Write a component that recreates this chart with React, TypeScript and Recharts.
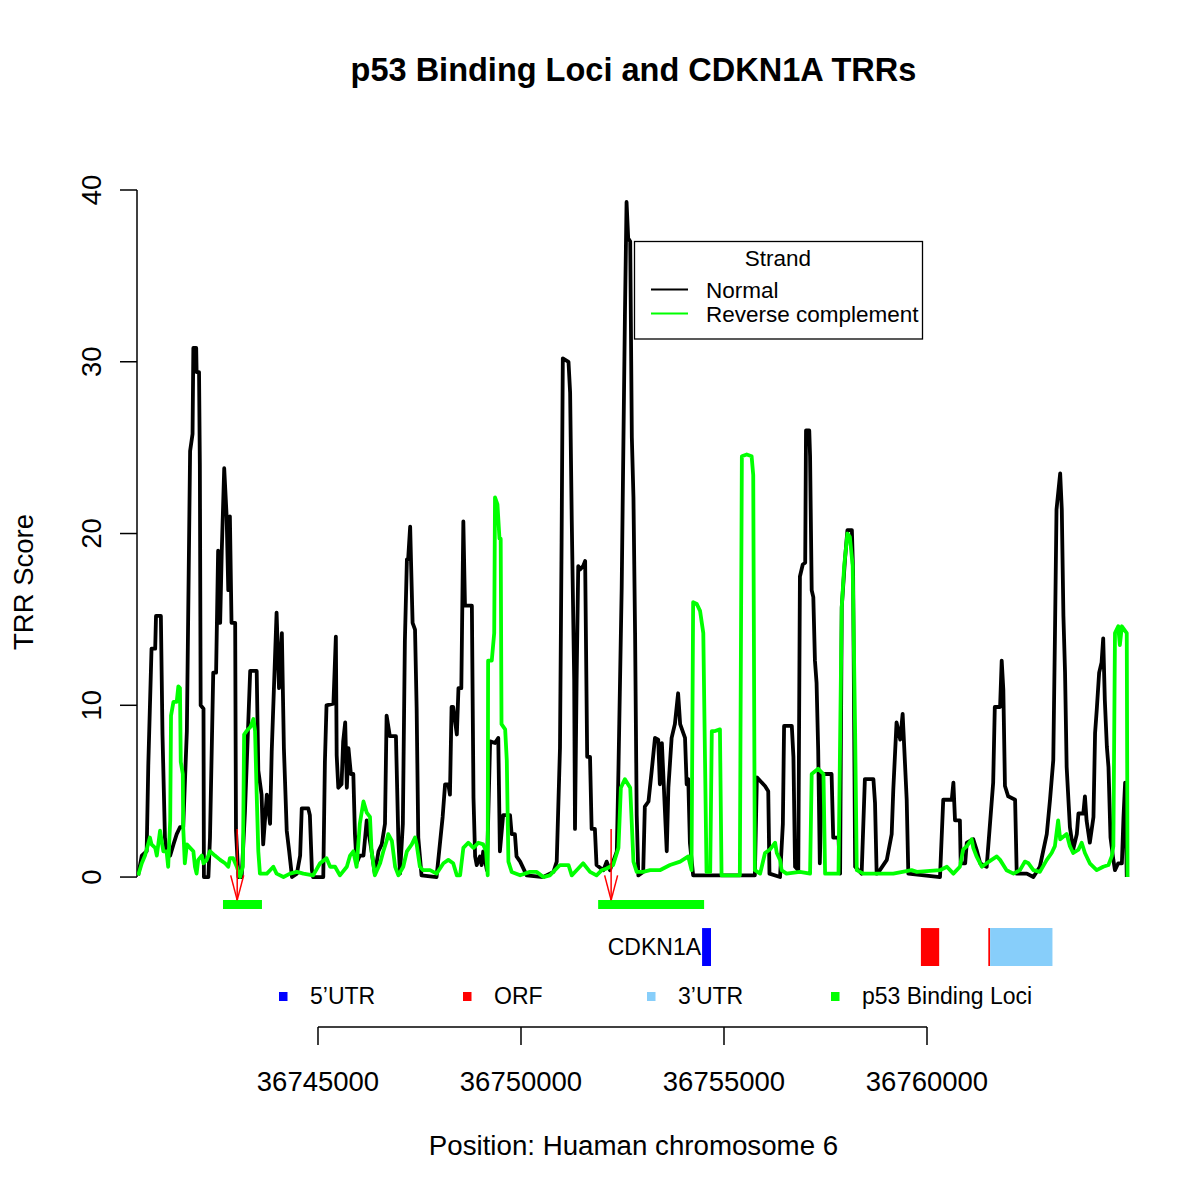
import React from "react";
import {
  ComposedChart,
  Line,
  XAxis,
  YAxis,
  ReferenceArea,
  ReferenceLine,
  Legend,
} from "recharts";

// TRR score along the CDKN1A region: [position (bp), score]
const normalTrace: [number, number][] = [
  [36740570, 0.1], [36740660, 1.25], [36740780, 1.5], [36740820, 6.5], [36740900, 13.3],
  [36740990, 13.3], [36741010, 15.2], [36741130, 15.2], [36741150, 11.7], [36741170, 8.3],
  [36741230, 2.3], [36741270, 1.5], [36741360, 1.25], [36741440, 1.9], [36741520, 2.5],
  [36741600, 2.9], [36741680, 2.9], [36741770, 8.5], [36741850, 24.8], [36741910, 25.8],
  [36741930, 30.8], [36742000, 30.8], [36742010, 29.4], [36742070, 29.4], [36742090, 24],
  [36742110, 10], [36742180, 9.8], [36742190, 0], [36742300, 0], [36742340, 2.3],
  [36742420, 11.9], [36742490, 11.9], [36742540, 19], [36742590, 14.8], [36742630, 19],
  [36742690, 23.8], [36742750, 21], [36742790, 16.7], [36742830, 21], [36742870, 14.8],
  [36742960, 14.8], [36742980, 2.7], [36743040, 0], [36743120, 0], [36743200, 3.75],
  [36743330, 12], [36743490, 12], [36743530, 6.2], [36743610, 4.8], [36743650, 1.9],
  [36743740, 4.8], [36743820, 3.1], [36743860, 7.3], [36743980, 15.4], [36744040, 11],
  [36744110, 14.2], [36744160, 7.5], [36744230, 2.7], [36744290, 1.5], [36744360, 0],
  [36744480, 0.2], [36744560, 1.25], [36744600, 4], [36744760, 4], [36744800, 3.6],
  [36744850, 0.4], [36744880, 0], [36745130, 0], [36745170, 6.7], [36745210, 10],
  [36745380, 10.1], [36745440, 14], [36745460, 7.1], [36745500, 5.2], [36745580, 5.4],
  [36745620, 7.9], [36745670, 9], [36745710, 5.2], [36745750, 7.5], [36745810, 6],
  [36745870, 6], [36745910, 2.5], [36745950, 0.8], [36746030, 1.25], [36746120, 1.25],
  [36746200, 3.3], [36746320, 1.5], [36746400, 0.2], [36746490, 1.5], [36746570, 1.9],
  [36746650, 3.1], [36746690, 9.4], [36746770, 8.2], [36746920, 8.2], [36746980, 2.1],
  [36747020, 0.2], [36747090, 3.1], [36747140, 13.75], [36747190, 18.5], [36747220, 18.5],
  [36747270, 20.4], [36747290, 18.5], [36747330, 14.8], [36747390, 14.4], [36747430, 9.8],
  [36747470, 2.3], [36747550, 0.1], [36747920, 0], [36748010, 2.1], [36748070, 3.5],
  [36748130, 5.4], [36748210, 5.4], [36748250, 4.8], [36748290, 9.9], [36748330, 9.9],
  [36748420, 8.3], [36748460, 11], [36748530, 11], [36748580, 20.7], [36748620, 15.8],
  [36748790, 15.8], [36748830, 4.6], [36748870, 1.2], [36748910, 0.7], [36748990, 1.2],
  [36749030, 0.7], [36749070, 1.5], [36749160, 0.4], [36749240, 7.9], [36749360, 7.8],
  [36749440, 8.1], [36749480, 1.5], [36749560, 3.6], [36749730, 3.6], [36749770, 2.5],
  [36749850, 2.5], [36749890, 1.2], [36749980, 0.9], [36750140, 0.1], [36750550, 0],
  [36750800, 0.3], [36750880, 0.9], [36750960, 7.5], [36751000, 19.5], [36751030, 30.2],
  [36751170, 30], [36751210, 28.2], [36751250, 20.8], [36751310, 11.5], [36751330, 2.8],
  [36751370, 11.5], [36751410, 18.1], [36751450, 17.9], [36751530, 18.1], [36751580, 18.4],
  [36751630, 7], [36751700, 7], [36751740, 2.8], [36751820, 2.8], [36751860, 0.7],
  [36752030, 0.4], [36752110, 0.9], [36752190, 0.4], [36752270, 0.9], [36752360, 1.5],
  [36752400, 6.2], [36752480, 16.8], [36752520, 24.8], [36752560, 32.7], [36752600, 39.3],
  [36752640, 37.2], [36752690, 37], [36752730, 25.6], [36752770, 22.1], [36752810, 14.2],
  [36752850, 3.6], [36752890, 0.1], [36753010, 0.3], [36753050, 4.1], [36753140, 4.4],
  [36753220, 6.2], [36753300, 8.1], [36753380, 8], [36753420, 5.4], [36753470, 7.8],
  [36753510, 5.7], [36753590, 1.5], [36753630, 5.2], [36753710, 8.1], [36753790, 8.9],
  [36753870, 10.7], [36753920, 8.9], [36754040, 8.1], [36754080, 5.4], [36754120, 5.7],
  [36754160, 2], [36754240, 0.1], [36755760, 0.1], [36755810, 5.8], [36756010, 5.3],
  [36756090, 5], [36756120, 0.2], [36756380, 0], [36756450, 3.1], [36756480, 8.8],
  [36756670, 8.8], [36756710, 7], [36756750, 0.6], [36756830, 0.4], [36756870, 17.5],
  [36756940, 18.2], [36757000, 18.3], [36757020, 26], [36757100, 26], [36757120, 24.5],
  [36757160, 16.7], [36757200, 16.3], [36757240, 12.6], [36757280, 11.3], [36757320, 7.4],
  [36757360, 0.8], [36757410, 6], [36757650, 6], [36757690, 2.3], [36757820, 2.3],
  [36757860, 0.2], [36757900, 15.7], [36757980, 18.5], [36758040, 20.2], [36758150, 20.2],
  [36758180, 17.7], [36758230, 0.6], [36758390, 0.2], [36758470, 5.7], [36758680, 5.7],
  [36758720, 4.3], [36758760, 0.2], [36758840, 0.4], [36759010, 1], [36759130, 2.5],
  [36759170, 5.1], [36759250, 9], [36759340, 8], [36759400, 9.5], [36759430, 8],
  [36759500, 4.5], [36759540, 0.2], [36760320, 0], [36760400, 4.5], [36760610, 4.5],
  [36760650, 5.5], [36760690, 3.3], [36760810, 3.3], [36760830, 0.8], [36760940, 0.8],
  [36760980, 2], [36761140, 2.2], [36761220, 1.6], [36761310, 0.8], [36761470, 0.6],
  [36761630, 5.5], [36761670, 9.9], [36761800, 9.9], [36761840, 12.6], [36761880, 10.9],
  [36761920, 5.3], [36762000, 4.7], [36762170, 4.5], [36762210, 0.2], [36762460, 0.2],
  [36762620, 0], [36762780, 0.6], [36762950, 2.5], [36763030, 4.5], [36763110, 6.8],
  [36763150, 13.8], [36763190, 21.4], [36763280, 23.5], [36763320, 21.4], [36763360, 15.2],
  [36763400, 11.9], [36763440, 6.4], [36763520, 2.9], [36763600, 1.6], [36763690, 2.5],
  [36763730, 3.7], [36763850, 3.7], [36763890, 4.7], [36763930, 3.3], [36764010, 2],
  [36764100, 3.5], [36764140, 8.4], [36764180, 9.7], [36764240, 11.9], [36764300, 12.5],
  [36764340, 13.9], [36764380, 10.3], [36764430, 7.6], [36764470, 6.4], [36764520, 2.3],
  [36764590, 1], [36764630, 0.4], [36764710, 0.8], [36764800, 0.8], [36764840, 3.5],
  [36764880, 5.5], [36764920, 0],
];

const reverseTrace: [number, number][] = [
  [36740570, 0.1], [36740660, 0.8], [36740740, 1.25], [36740860, 2.3], [36740900, 1.9],
  [36740990, 1.7], [36741030, 1.25], [36741110, 2.7], [36741150, 2.1], [36741190, 1.5],
  [36741270, 1.5], [36741310, 0.6], [36741360, 3.3], [36741380, 9.4], [36741440, 10.2],
  [36741520, 10.2], [36741560, 11.1], [36741600, 11], [36741620, 6.7], [36741670, 6],
  [36741680, 2.9], [36741720, 0.8], [36741770, 1.9], [36741850, 1.7], [36741930, 1.5],
  [36741970, 0.6], [36742010, 0.2], [36742050, 1], [36742140, 1.25], [36742180, 0.8],
  [36742260, 1], [36742340, 1.5], [36742460, 1.25], [36742590, 1], [36742710, 0.8],
  [36742790, 0.6], [36742830, 1.1], [36742910, 1.1], [36743000, 0.6], [36743080, 0],
  [36743150, 0.6], [36743180, 8.3], [36743240, 8.5], [36743340, 8.75], [36743410, 9.2],
  [36743450, 8.5], [36743490, 4.8], [36743530, 1.5], [36743570, 0.2], [36743740, 0.2],
  [36743820, 0.4], [36743900, 0.6], [36743980, 0.2], [36744150, 0], [36744310, 0.2],
  [36744480, 0.3], [36744640, 0.2], [36744880, 0.1], [36745050, 0.8], [36745210, 1.1],
  [36745300, 0.6], [36745420, 0.6], [36745540, 0.1], [36745710, 0.6], [36745790, 1.25],
  [36745870, 1.5], [36745950, 0.6], [36746030, 3.1], [36746120, 4.4], [36746200, 3.75],
  [36746280, 3.5], [36746320, 1.5], [36746400, 0.1], [36746530, 0.8], [36746610, 1.5],
  [36746690, 2.1], [36746730, 2.5], [36746820, 2.1], [36746900, 0.6], [36746980, 0.1],
  [36747100, 0.6], [36747190, 1.5], [36747310, 1.9], [36747390, 2.3], [36747430, 1.9],
  [36747510, 0.6], [36747590, 0.4], [36747760, 0.4], [36747920, 0.2], [36748090, 0.8],
  [36748210, 1], [36748330, 0.8], [36748420, 0.1], [36748500, 0.1], [36748580, 1.7],
  [36748700, 2], [36748830, 1.7], [36748950, 2], [36749070, 1.9], [36749140, 1.5],
  [36749180, 0.1], [36749190, 12.6], [36749280, 12.6], [36749340, 14.2], [36749360, 22.1],
  [36749420, 21.7], [36749470, 19.7], [36749500, 19.7], [36749520, 8.9], [36749610, 8.6],
  [36749650, 6.8], [36749690, 0.9], [36749770, 0.3], [36749980, 0.1], [36750220, 0.3],
  [36750390, 0.3], [36750550, 0], [36750710, 0.1], [36750960, 0.7], [36751170, 0.7],
  [36751250, 0.1], [36751370, 0.4], [36751530, 0.8], [36751700, 0.3], [36751860, 0.1],
  [36751990, 0.4], [36752110, 0.5], [36752270, 0.7], [36752400, 1.7], [36752460, 5.2],
  [36752560, 5.7], [36752690, 5.2], [36752770, 0.9], [36752850, 0.3], [36753010, 0.3],
  [36753180, 0.4], [36753420, 0.4], [36753670, 0.7], [36753920, 0.9], [36754120, 1.2],
  [36754200, 0.4], [36754240, 16], [36754330, 15.9], [36754410, 15.5], [36754490, 14.2],
  [36754570, 0.3], [36754660, 0.3], [36754700, 8.5], [36754780, 8.5], [36754900, 8.6],
  [36754940, 0.1], [36755390, 0.1], [36755440, 24.5], [36755560, 24.6], [36755680, 24.5],
  [36755720, 23.4], [36755760, 0.4], [36755890, 0.2], [36756010, 1.4], [36756130, 1.6],
  [36756260, 2], [36756300, 1.4], [36756380, 1], [36756420, 0.4], [36756540, 0.2],
  [36756870, 0.3], [36757120, 0.2], [36757160, 6], [36757320, 6.3], [36757450, 6],
  [36757490, 0.2], [36757820, 0.2], [36757900, 15.7], [36757960, 18.1], [36758040, 20],
  [36758100, 19.8], [36758170, 18.1], [36758230, 8.4], [36758270, 0.4], [36758430, 0.2],
  [36759170, 0.2], [36759620, 0.4], [36759750, 0.3], [36760320, 0.4], [36760490, 0.6],
  [36760650, 0.2], [36760810, 0.6], [36760890, 1.6], [36760980, 1.8], [36761100, 2.2],
  [36761140, 1.7], [36761220, 1.2], [36761350, 0.6], [36761470, 0.8], [36761590, 1],
  [36761720, 1.2], [36761800, 1], [36761960, 0.4], [36762130, 0.2], [36762290, 0.4],
  [36762410, 0.9], [36762500, 0.8], [36762620, 0.4], [36762780, 0.3], [36762950, 1],
  [36763070, 1.4], [36763150, 1.8], [36763230, 3.3], [36763280, 2.2], [36763440, 2.5],
  [36763520, 1.8], [36763600, 1.4], [36763730, 1.6], [36763810, 2], [36763890, 1.4],
  [36764010, 0.8], [36764180, 0.4], [36764340, 0.6], [36764470, 0.7], [36764550, 1.2],
  [36764590, 1.8], [36764630, 14.2], [36764710, 14.6], [36764750, 13.5], [36764800, 14.6],
  [36764920, 14.2], [36764940, 0],
];

const xTicks = [36745000, 36750000, 36755000, 36760000];
const yTicks = [0, 10, 20, 30, 40];

// p53 binding loci (start, end) and the binding sites marked with arrows
const bindingLoci: [number, number][] = [
  [36742660, 36743620],
  [36751900, 36754510],
];
const bindingSites = [36743010, 36752220];

// CDKN1A transcript parts
const geneName = "CDKN1A";
const geneParts: { part: string; start: number; end: number }[] = [
  { part: "5’UTR", start: 36754460, end: 36754680 },
  { part: "ORF", start: 36759850, end: 36760300 },
  { part: "ORF", start: 36761510, end: 36761555 },
  { part: "3’UTR", start: 36761555, end: 36763090 },
];
const featureLegend = ["5’UTR", "ORF", "3’UTR", "p53 Binding Loci"];
const strands = ["Normal", "Reverse complement"];

const FONT = '"Liberation Sans", Arial, Helvetica, sans-serif';
const featureColor: Record<string, string> = {
  "5’UTR": "#0000ff",
  ORF: "#ff0000",
  "3’UTR": "#87cefa",
  "p53 Binding Loci": "#00ff00",
};
const strandColor: Record<string, string> = {
  Normal: "#000000",
  "Reverse complement": "#00ff00",
};

// plot window and vertical layout of the annotation track (in score units)
const X_DOMAIN: [number, number] = [36740542, 36765000];
const Y_DOMAIN: [number, number] = [-8.73, 40];
const LOCI_Y: [number, number] = [-1.86, -1.34];
const GENE_Y: [number, number] = [-5.18, -2.97];
const ARROW_TOP = 2.8;
const ARROW_HEAD = 0.1;
const ARROW_HALF = 160;

const normalData = normalTrace.map(([pos, score]) => ({ pos, score }));
const reverseData = reverseTrace.map(([pos, score]) => ({ pos, score }));

const XTick = ({ x, y, payload }: any) => (
  <g>
    <line x1={x} x2={x} y1={y} y2={y + 18} stroke="#000" strokeWidth={1.5} />
    <text x={x} y={y + 64} textAnchor="middle" fontSize={27.5} fontFamily={FONT} fill="#000">
      {payload.value}
    </text>
  </g>
);

const YTick = ({ x, y, payload }: any) => (
  <g>
    <line x1={x} x2={x - 17} y1={y} y2={y} stroke="#000" strokeWidth={1.5} />
    <text
      transform={`translate(${x - 36},${y}) rotate(-90)`}
      textAnchor="middle"
      fontSize={27.5}
      fontFamily={FONT}
      fill="#000"
    >
      {payload.value}
    </text>
  </g>
);

function StrandLegend() {
  return (
    <svg width={300} height={100} style={{ display: "block", overflow: "visible" }}>
      <rect x={0.5} y={0.5} width={288} height={97.5} fill="#fff" stroke="#000" strokeWidth={1.3} />
      <text x={144} y={25} textAnchor="middle" fontSize={22.5} fontFamily={FONT}>
        Strand
      </text>
      {strands.map((s, i) => (
        <g key={s}>
          <line x1={17} x2={54} y1={48.5 + i * 24} y2={48.5 + i * 24} stroke={strandColor[s]} strokeWidth={2} />
          <text x={72} y={57 + i * 23.5} fontSize={22.5} fontFamily={FONT}>
            {s}
          </text>
        </g>
      ))}
    </svg>
  );
}

export default function App() {
  return (
    <div style={{ position: "relative", width: 1200, height: 1198, background: "#fff", fontFamily: FONT }}>
      <style>{`body{margin:0}`}</style>
      <ComposedChart width={1200} height={1198} margin={{ top: 190, right: 70, bottom: 0, left: 0 }}>
        <XAxis
          type="number"
          dataKey="pos"
          domain={X_DOMAIN}
          allowDataOverflow
          ticks={xTicks}
          interval={0}
          height={171}
          axisLine={false}
          tickLine={false}
          tickSize={0}
          tickMargin={0}
          tick={<XTick />}
          label={() => (
            <text x={633.5} y={1155} textAnchor="middle" fontSize={27.7} fontFamily={FONT} fill="#000">
              Position: Huaman chromosome 6
            </text>
          )}
        />
        <YAxis
          type="number"
          domain={Y_DOMAIN}
          allowDataOverflow
          ticks={yTicks}
          interval={0}
          width={137}
          axisLine={false}
          tickLine={false}
          tickSize={0}
          tickMargin={0}
          tick={<YTick />}
          label={() => (
            <text
              transform="translate(33,582) rotate(-90)"
              textAnchor="middle"
              fontSize={27.5}
              fontFamily={FONT}
              fill="#000"
            >
              TRR Score
            </text>
          )}
        />

        <ReferenceLine
          segment={[{ x: X_DOMAIN[0], y: 0 }, { x: X_DOMAIN[0], y: 40 }]}
          stroke="#000"
          strokeWidth={1.5}
          ifOverflow="visible"
        />
        <ReferenceLine
          segment={[{ x: xTicks[0], y: Y_DOMAIN[0] }, { x: xTicks[xTicks.length - 1], y: Y_DOMAIN[0] }]}
          stroke="#000"
          strokeWidth={1.5}
          ifOverflow="visible"
        />

        <Line
          data={normalData}
          dataKey="score"
          type="linear"
          stroke="#000"
          strokeWidth={3.8}
          strokeLinejoin="round"
          dot={false}
          activeDot={false}
          isAnimationActive={false}
        />
        <Line
          data={reverseData}
          dataKey="score"
          type="linear"
          stroke="#00ff00"
          strokeWidth={3.8}
          strokeLinejoin="round"
          dot={false}
          activeDot={false}
          isAnimationActive={false}
        />

        {bindingLoci.map(([s, e]) => (
          <ReferenceArea
            key={`locus-${s}`}
            x1={s}
            x2={e}
            y1={LOCI_Y[0]}
            y2={LOCI_Y[1]}
            fill={featureColor["p53 Binding Loci"]}
            fillOpacity={1}
            stroke="none"
            ifOverflow="visible"
          />
        ))}
        {geneParts.map((g, i) => (
          <ReferenceArea
            key={`gene-${i}`}
            x1={g.start}
            x2={g.end}
            y1={GENE_Y[0]}
            y2={GENE_Y[1]}
            fill={featureColor[g.part]}
            fillOpacity={1}
            stroke="none"
            ifOverflow="visible"
            label={
              i === 0
                ? { value: geneName, position: "left", offset: 1, fontSize: 23, fill: "#000", fontFamily: FONT }
                : undefined
            }
          />
        ))}
        {bindingSites.map((s) => (
          <React.Fragment key={`site-${s}`}>
            <ReferenceLine
              segment={[{ x: s, y: ARROW_TOP }, { x: s, y: LOCI_Y[1] }]}
              stroke="#ff0000"
              strokeWidth={1.5}
              ifOverflow="visible"
            />
            <ReferenceLine
              segment={[{ x: s - ARROW_HALF, y: ARROW_HEAD }, { x: s, y: LOCI_Y[1] }]}
              stroke="#ff0000"
              strokeWidth={1.5}
              ifOverflow="visible"
            />
            <ReferenceLine
              segment={[{ x: s + ARROW_HALF, y: ARROW_HEAD }, { x: s, y: LOCI_Y[1] }]}
              stroke="#ff0000"
              strokeWidth={1.5}
              ifOverflow="visible"
            />
          </React.Fragment>
        ))}

        <Legend
          layout="vertical"
          align="center"
          verticalAlign="middle"
          wrapperStyle={{ left: 634, top: 241, width: 300, height: 100 }}
          content={() => <StrandLegend />}
        />
      </ComposedChart>

      {/* title */}
      <svg width={1200} height={110} style={{ position: "absolute", left: 0, top: 0, pointerEvents: "none" }}>
        <text x={633.5} y={81} textAnchor="middle" fontSize={32.5} fontWeight="bold" fontFamily={FONT}>
          p53 Binding Loci and CDKN1A TRRs
        </text>
      </svg>

      {/* annotation legend */}
      <svg width={1200} height={45} style={{ position: "absolute", left: 0, top: 975, pointerEvents: "none" }}>
        {featureLegend.map((f, i) => (
          <g key={f}>
            <rect x={279 + i * 184} y={17} width={8.5} height={9} fill={featureColor[f]} />
            <text x={310 + i * 184} y={29} fontSize={23} fontFamily={FONT}>
              {f}
            </text>
          </g>
        ))}
      </svg>
    </div>
  );
}
